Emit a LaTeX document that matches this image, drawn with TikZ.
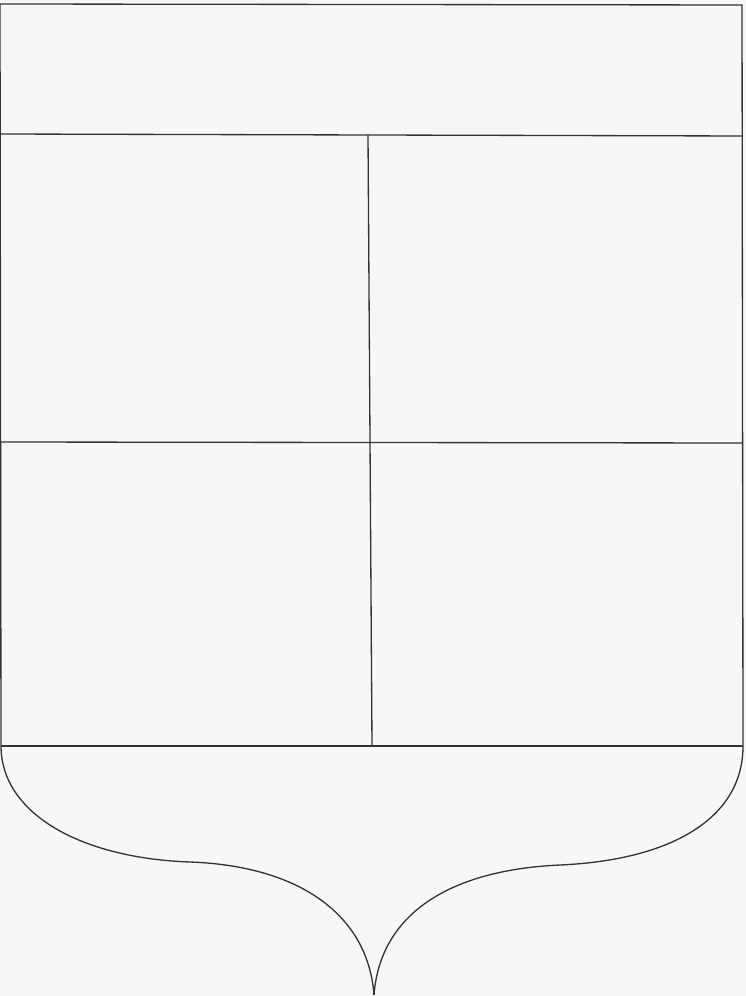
\documentclass[tikz,border=0pt]{standalone}
\usepackage{tikz}
\usetikzlibrary{positioning}

\begin{document}
\begin{tikzpicture}[
      x=0.02cm, y=-0.02cm,
      edge/.style={draw=black!80, line width=0.75pt},
      field/.style={fill=black!3, draw=none}]

    % ============================================
    % page and field
    % ============================================
    \path[field] (0,0) rectangle (746,996);
    \useasboundingbox (0,0) rectangle (746,996);

    \def\ychief{134}
    \def\ymid{442}
    \def\ybase{746}

    \coordinate (tl) at (0,4);
    \coordinate (tr) at (742,5);
    \coordinate (bl) at (1,\ybase);
    \coordinate (br) at (743,\ybase);
    \coordinate (tip) at (374,995);

    % ============================================
    % outline of the shield
    % ============================================
    \draw[edge] (bl) -- (tl) -- (tr) -- (br);
    \draw[edge] (bl) .. controls (1,812) and (78,858) .. (190,862)
                     .. controls (300,866) and (368,915) .. (tip);
    \draw[edge] (tip) .. controls (380,915) and (448,870) .. (560,865)
                      .. controls (672,860) and (743,818) .. (br);

    % ============================================
    % divisions
    % ============================================
    \draw[edge] (0,\ychief) -- (742,\ychief+2);
    \draw[edge] (0,\ymid) -- (742,\ymid+1);
    \draw[edge] (bl) -- (br);
    \draw[edge] (368,\ychief+1) -- (372,\ybase);

\end{tikzpicture}
\end{document}
